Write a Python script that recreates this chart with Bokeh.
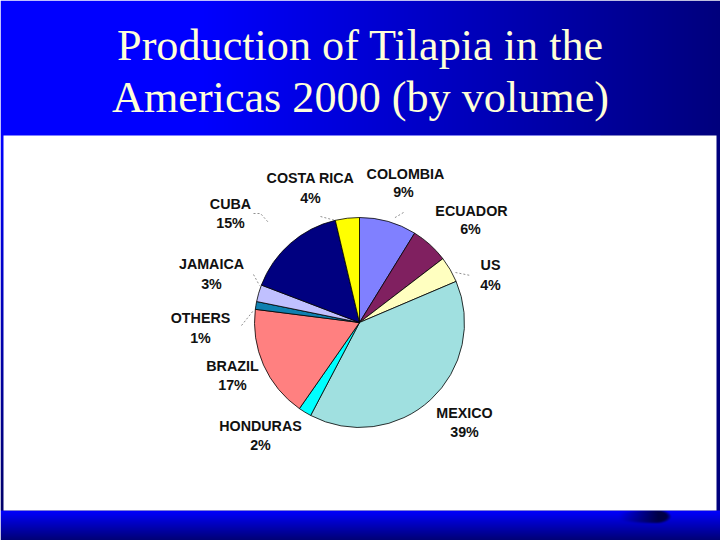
import numpy as np
from bokeh.core.properties import value
from bokeh.embed import file_html
from bokeh.models import ColumnDataSource, Range1d
from bokeh.plotting import figure
from bokeh.resources import INLINE

# ---- chart data ----
categories = ["COLOMBIA", "ECUADOR", "US", "MEXICO", "HONDURAS",
              "BRAZIL", "OTHERS", "JAMAICA", "CUBA", "COSTA RICA"]
shares = [8.8, 5.8, 4.0, 39.1, 2.0, 17.3, 1.2, 2.6, 15.5, 3.7]
share_labels = ["9%", "6%", "4%", "39%", "2%", "17%", "1%", "3%", "15%", "4%"]
title_lines = ["Production of Tilapia in the", "Americas 2000 (by volume)"]

# ---- styling and layout (reference pixels, y measured downward) ----
W, H = 720, 540
colors = ["#8080FF", "#802060", "#FFFFC0", "#A0E0E0", "#00FFFF",
          "#FF8080", "#0F80B0", "#C0C0FF", "#000080", "#FFFF00"]
name_xy = [(405, 173), (471, 210), (490, 264), (464, 412), (260, 425),
           (232, 365), (200, 317), (211, 263), (230, 203), (310, 177)]
pct_xy = [(403, 191), (470, 228), (490, 284), (464, 431), (260, 444),
          (232, 384), (200, 337), (211, 283), (230, 222), (310, 197)]
leaders = [([403, 393], [212, 218]), ([455, 470], [272, 275]),
           ([241, 253], [325, 310]), ([253, 259], [274, 285]),
           ([253, 260, 268], [213, 213, 222]), ([320, 335], [216, 220])]
CX, CY, R = 359, 322, 105


def Y(py):
    return H - py


# gradient slide background
xx, yy = np.meshgrid(np.arange(W) + 0.5, np.arange(H) + 0.5)
blue = np.zeros((H, W))
top = 255 - 130 * np.clip((xx - 200) / 520, 0, 1)
blue[yy < 135] = top[yy < 135]
mid = yy >= 135
blue[mid] = (255 - 150 * np.clip((yy - 135) / 375, 0, 1))[mid]
right = mid & (xx > 600)
blue[right] = 125
band = yy >= 510
blue[band] = (255 - 140 * np.clip((yy - 510) / 30, 0, 1))[band]
ax = np.where(xx < 655, 45.0, 15.0)
d = ((xx - 655) / ax) ** 2 + ((yy - 516) / 7.0) ** 2
shade = np.clip((1.15 - d) / 0.6, 0, 1) * np.clip((xx - 618) / 40, 0, 1)
shade[yy < 510] = 0
blue = blue * (1 - shade) + 70 * shade

img = np.zeros((H, W), dtype=np.uint32)
view = img.view(dtype=np.uint8).reshape((H, W, 4))
view[:, :, 2] = blue.astype(np.uint8)
view[:, :, 3] = 255

p = figure(width=W, height=H, output_backend="svg", toolbar_location=None,
           x_range=Range1d(0, W), y_range=Range1d(0, H), min_border=0)
p.axis.visible = False
p.grid.visible = False
p.outline_line_color = None

p.image_rgba(image=[img[::-1]], x=0, y=0, dw=W, dh=H)
p.quad(left=[3], right=[716], top=[Y(135)], bottom=[Y(510)],
       fill_color="white", line_color=None)

# pie, clockwise from 12 o'clock
total = sum(shares)
cum = np.cumsum([0] + shares) / total
starts = np.pi / 2 - 2 * np.pi * cum[1:]
ends = np.pi / 2 - 2 * np.pi * cum[:-1]
pie = ColumnDataSource(dict(start=starts, end=ends, color=colors, name=categories))
p.wedge(x=CX, y=Y(CY), radius=R, start_angle="start", end_angle="end",
        direction="anticlock", fill_color="color", line_color="black",
        line_width=0.8, source=pie)

for lx, ly in leaders:
    p.line(lx, [Y(v) for v in ly], line_color="#444444", line_width=0.6,
           line_dash="2 2")

p.text(x=[c[0] for c in name_xy], y=[Y(c[1]) for c in name_xy], text=categories,
       text_font=value("Liberation Sans"), text_font_style="bold",
       text_font_size="14.3px", text_align="center", text_baseline="middle",
       text_color="#111111")
p.text(x=[c[0] for c in pct_xy], y=[Y(c[1]) for c in pct_xy], text=share_labels,
       text_font=value("Liberation Sans"), text_font_style="bold",
       text_font_size="14.3px", text_align="center", text_baseline="middle",
       text_color="#111111")

p.text(x=[360, 360], y=[Y(45), Y(97)], text=title_lines,
       text_font=value("Liberation Serif"), text_font_size="44.2px",
       text_align="center", text_baseline="middle", text_color="#FFFFD8")

html = file_html(p, INLINE)
html = html.replace("<body>", '<body style="margin:0;overflow:hidden">', 1)
open("out.html", "w").write(html)
